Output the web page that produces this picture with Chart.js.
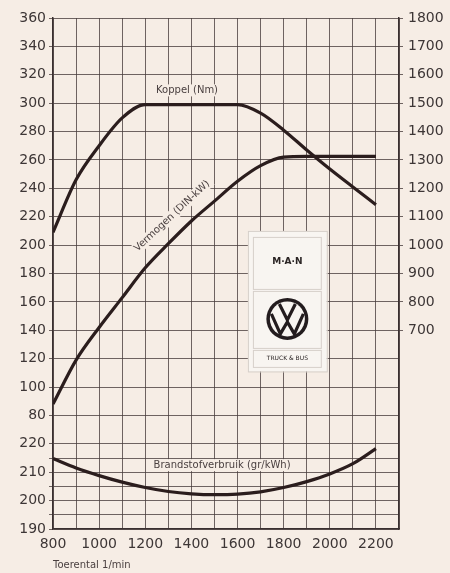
<!DOCTYPE html>
<html>
<head>
<meta charset="utf-8">
<script src="https://cdn.jsdelivr.net/npm/chart.js@4.4.1/dist/chart.umd.min.js"></script>
<style>
  html, body { margin:0; padding:0; background:#f6ede5; }
  #wrap { width:450px; height:573px; }
</style>
</head>
<body>
<div id="wrap"><canvas id="motor" width="450" height="573"></canvas></div>
<script>
// toerental (1/min)
const rpm = [800,900,1000,1100,1200,1300,1400,1500,1600,1700,1800,1900,2000,2100,2200];
// Vermogen (DIN-kW), left scale
const powerKW = [88,119,142,163,184,201,217,231,245,256,262,262.5,262.5,262.5,262.5];
// Koppel (Nm), right scale
const torqueNm = [1045,1230,1350,1448,1495,1495,1495,1495,1495,1465,1405,1335,1268,1205,1142];
// Brandstofverbruik (gr/kWh), lower left scale
const fuelG = [214.8,211.5,208.8,206.5,204.6,203.2,202.4,202.1,202.3,203.1,204.6,206.7,209.4,213.0,218.3];

// ticks
const rpmTicks = [800,900,1000,1100,1200,1300,1400,1500,1600,1700,1800,1900,2000,2100,2200,2300];
const rpmLabels = [800,1000,1200,1400,1600,1800,2000,2200];
const powerTicks = [80,100,120,140,160,180,200,220,240,260,280,300,320,340,360];
const fuelTicks = [190,195,200,205,210,215,220];
const fuelLabels = [190,200,210,220];
const torqueTicks = [700,800,900,1000,1100,1200,1300,1400,1500,1600,1700,1800];

const paper = '#f6ede5';
const ink = '#2b1d1d';
const gridCol = 'rgba(72,60,60,0.78)';
const txtCol = '#3d3636';
const tickFont = { family:'DejaVu Sans', size:14 };

// fuel is drawn on the same grid: 10 gr/kWh = 20 units of the kW scale, 190 at 0
const fuelToAxis = g => (g - 190) * 2;

const pts = arr => arr.map((v,i)=>({x:rpm[i], y:v}));

// paper + labels + logo
const decor = {
  id:'decor',
  beforeDraw(chart){
    const c = chart.ctx;
    c.save(); c.fillStyle = paper; c.fillRect(0,0,chart.width,chart.height); c.restore();
  },
  beforeDatasetsDraw(chart){
    const c = chart.ctx, xs = chart.scales.x, ys = chart.scales.y;
    const label = (txt, rx, ry, ang) => {
      const px = xs.getPixelForValue(rx), py = ys.getPixelForValue(ry);
      c.save();
      c.translate(px, py); c.rotate(ang || 0);
      c.font = '10px "DejaVu Sans"';
      const w = c.measureText(txt).width;
      c.fillStyle = paper; c.fillRect(-w/2-3, -6, w+6, 12);
      c.fillStyle = '#4a4040'; c.textAlign = 'center'; c.textBaseline = 'middle';
      c.fillText(txt, 0, 0);
      c.restore();
    };
    label('Koppel (Nm)', 1381, 309);
    label('Vermogen (DIN-kW)', 1316, 220.5, -43*Math.PI/180);
    label('Brandstofverbruik (gr/kWh)', 1533, fuelToAxis(212.5));

    // MAN / VW plate
    const x0 = xs.getPixelForValue(1645), x1 = xs.getPixelForValue(1987);
    const y0 = ys.getPixelForValue(210), y1 = ys.getPixelForValue(111);
    c.save();
    c.fillStyle = '#f8f5f1'; c.strokeStyle = '#d6cfca'; c.lineWidth = 1;
    c.fillRect(x0, y0, x1-x0, y1-y0); c.strokeRect(x0+0.5, y0+0.5, x1-x0, y1-y0);
    c.strokeRect(x0+5.5, y0+6.5, x1-x0-11, 52);
    c.strokeRect(x0+5.5, y0+60.5, x1-x0-11, 57);
    c.strokeRect(x0+5.5, y0+119.5, x1-x0-11, 17);
    const cx = (x0+x1)/2;
    c.fillStyle = '#2a2424'; c.textAlign = 'center'; c.textBaseline = 'middle';
    c.font = 'bold 9px "DejaVu Sans"';
    c.fillText('M\u00b7A\u00b7N', cx, y0+31);
    c.font = '6px "DejaVu Sans"';
    c.fillText('TRUCK & BUS', cx, y0+128);
    const cy = y0+88;
    c.beginPath(); c.arc(cx, cy, 21, 0, Math.PI*2); c.fillStyle = '#231c1e'; c.fill();
    c.beginPath(); c.arc(cx, cy, 17.5, 0, Math.PI*2); c.fillStyle = '#f8f5f1'; c.fill();
    c.strokeStyle = '#231c1e'; c.lineWidth = 3.2; c.lineJoin = 'miter';
    c.beginPath(); c.moveTo(cx-8, cy-15); c.lineTo(cx, cy+1); c.lineTo(cx+8, cy-15); c.stroke();
    c.beginPath(); c.moveTo(cx-16, cy-5); c.lineTo(cx-7, cy+15); c.lineTo(cx, cy+3);
    c.lineTo(cx+7, cy+15); c.lineTo(cx+16, cy-5); c.stroke();
    c.restore();
  }
};

const line = (data, axis) => ({
  data, yAxisID: axis, borderColor: ink, borderWidth: 3.2,
  pointRadius: 0, cubicInterpolationMode: 'monotone', fill: false
});

new Chart(document.getElementById('motor'), {
  type: 'line',
  data: { datasets: [
    line(pts(torqueNm), 'yT'),
    line(pts(powerKW), 'y'),
    line(pts(fuelG), 'yF')
  ]},
  options: {
    responsive: false, animation: false,
    layout: { padding: { top: 18, left: 0, right: 0, bottom: 0 } },
    plugins: { legend: { display: false }, tooltip: { enabled: false } },
    scales: {
      x: {
        type: 'linear', min: 800, max: 2300,
        afterBuildTicks: s => { s.ticks = rpmTicks.map(v => ({ value: v })); },
        ticks: { callback: v => rpmLabels.includes(v) ? String(v) : '', font: tickFont, color: txtCol,
                 padding: 7, maxRotation: 0, autoSkip: false },
        grid: { color: gridCol, lineWidth: 1, drawTicks: false },
        border: { color: '#3a3030', width: 1.5 },
        title: { display: true, text: 'Toerental 1/min', align: 'start', color: '#4a4040',
                 font: { family: 'DejaVu Sans', size: 10 }, padding: { top: 0, bottom: 2 } },
        afterFit: s => { s.height = 44; }
      },
      y: {
        position: 'left', min: 0, max: 360,
        afterBuildTicks: s => {
          s.ticks = fuelTicks.map(g => ({ value: fuelToAxis(g) }))
            .concat(powerTicks.map(v => ({ value: v })));
        },
        ticks: {
          callback: v => {
            if (v >= 80) return String(v);
            const g = v/2 + 190;
            return fuelLabels.includes(g) ? String(g) : '';
          },
          font: tickFont, color: txtCol, padding: 3, autoSkip: false
        },
        grid: { color: gridCol, lineWidth: 1, tickLength: 4 },
        border: { color: '#3a3030', width: 1.5 },
        afterFit: s => { s.width = 53; }
      },
      yT: {
        position: 'right', min: 0, max: 1800,
        afterBuildTicks: s => { s.ticks = torqueTicks.map(v => ({ value: v })); },
        ticks: { callback: v => String(v), font: tickFont, color: txtCol, padding: 5, autoSkip: false },
        grid: { drawOnChartArea: false, color: gridCol, tickLength: 4 },
        border: { color: '#3a3030', width: 1.5 },
        afterFit: s => { s.width = 51; }
      },
      yF: { display: false, min: 190, max: 370 }
    }
  },
  plugins: [decor]
});
</script>
</body>
</html>
